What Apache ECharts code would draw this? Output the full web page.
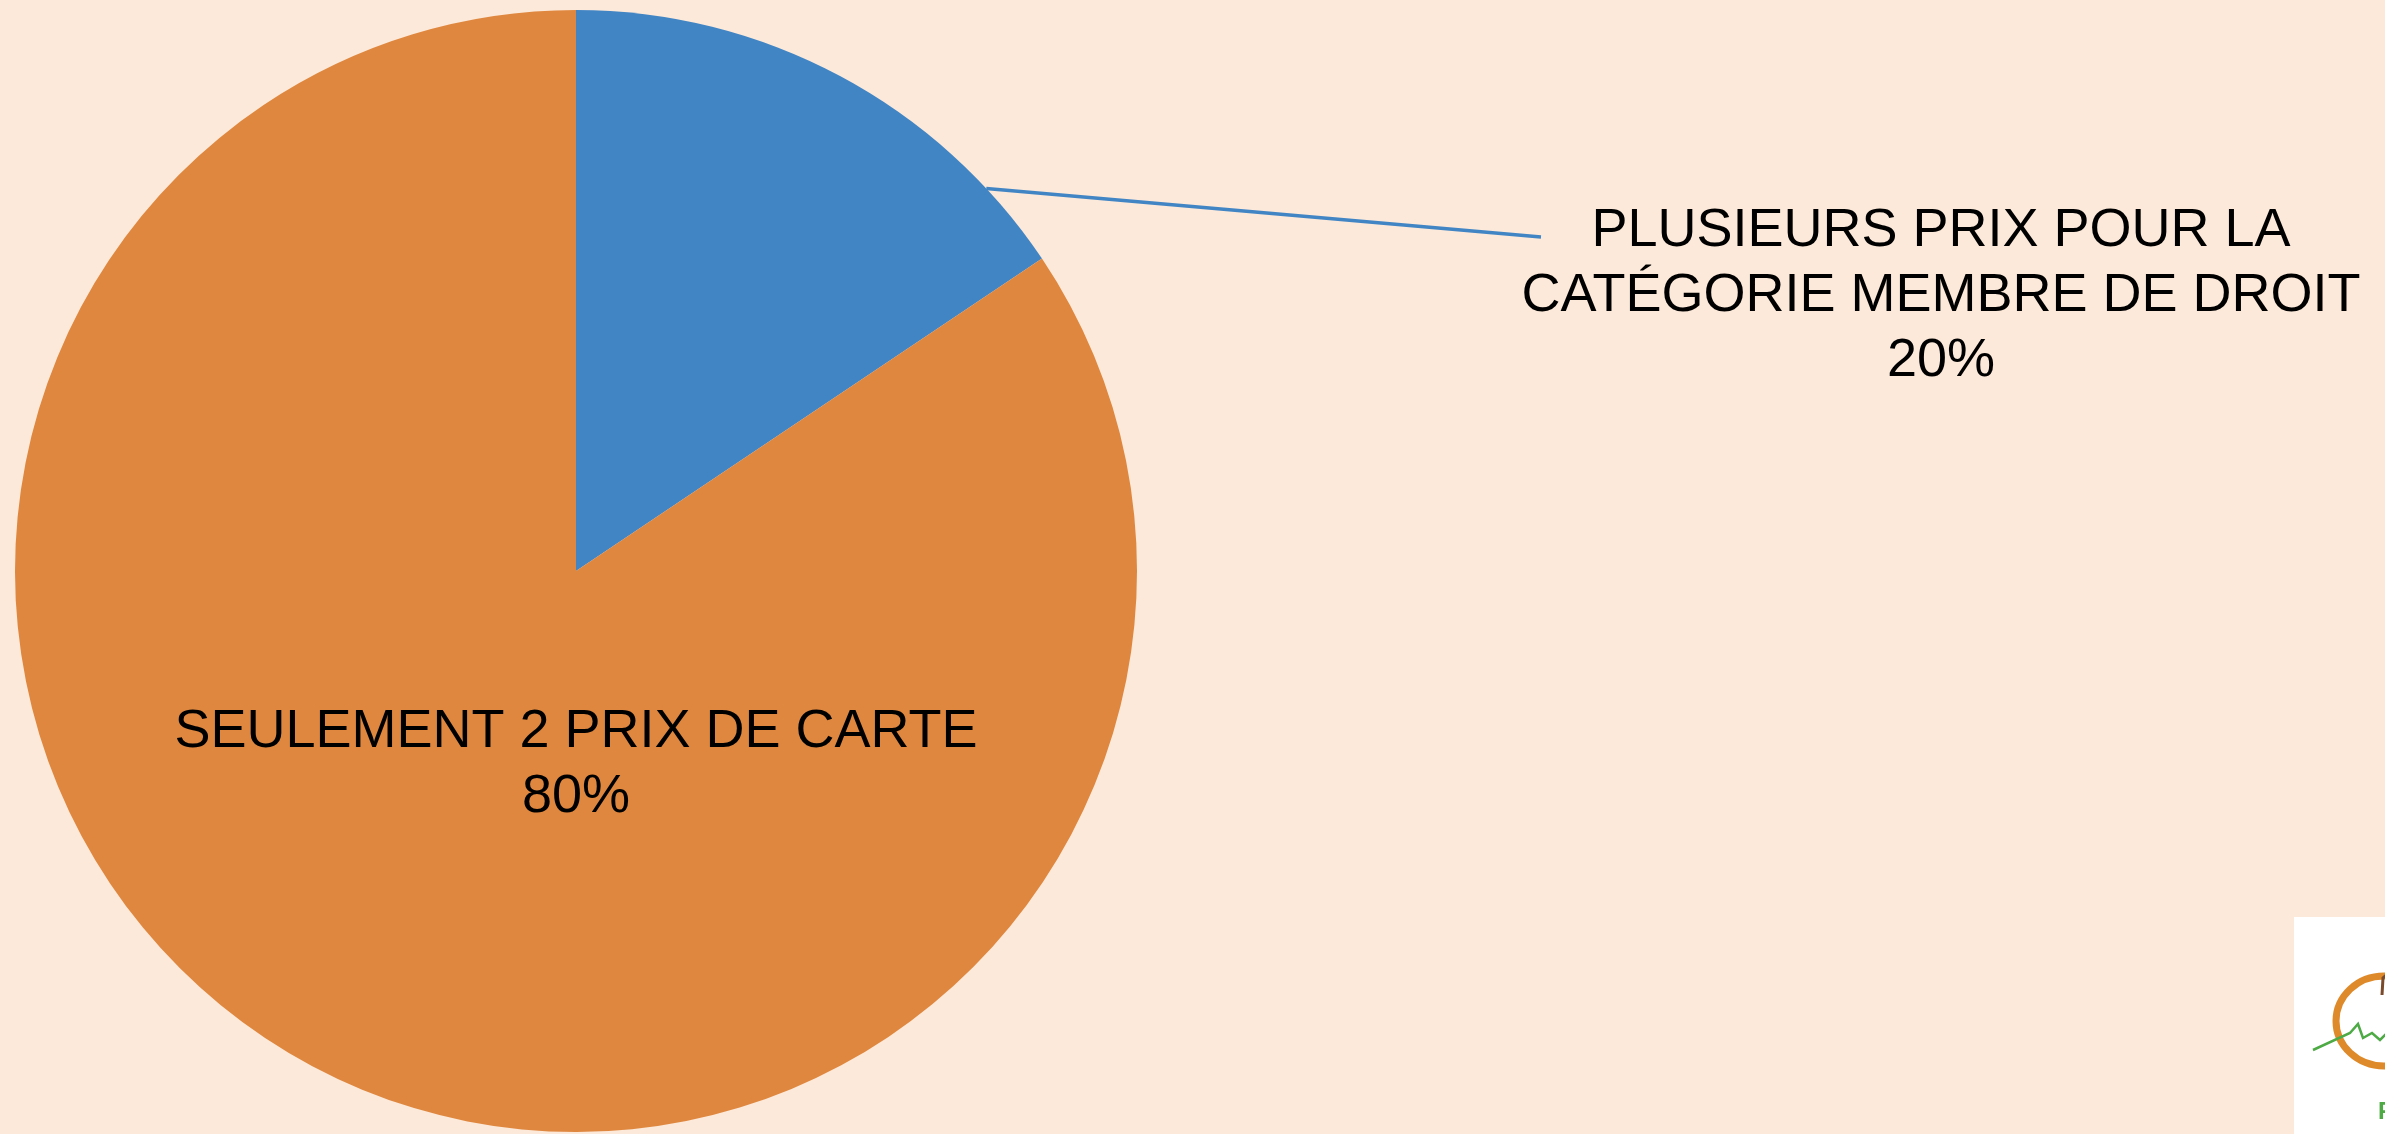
<!DOCTYPE html>
<html>
<head>
<meta charset="utf-8">
<style>
  html, body { margin: 0; padding: 0; background: #FCE9D9; }
  #main { width: 2385px; height: 1134px; }
</style>
<script src="https://cdn.jsdelivr.net/npm/echarts@6/dist/echarts.min.js"></script>
</head>
<body>
<div id="main"></div>
<script>
// données
const categories = ['PLUSIEURS PRIX POUR LA\nCATÉGORIE MEMBRE DE DROIT', 'SEULEMENT 2 PRIX DE CARTE'];
const sliceValues = [15.6, 84.4];
const labelPercents = ['20%', '80%'];
const sliceColors = ['#4185C5', '#DF873F'];

// mise en page
const cx = 576, cy = 571, R = 561;
const leaderAngle = 47 * Math.PI / 180;

let myChart = echarts.init(document.getElementById('main'));

myChart.setOption({
  backgroundColor: '#FCE9D9',
  animation: false,
  series: [
    {
      type: 'pie',
      center: [cx, cy],
      radius: [0, R],
      startAngle: 90,
      clockwise: true,
      avoidLabelOverlap: false,
      itemStyle: { borderWidth: 0 },
      label: {
        show: true,
        position: 'outside',
        color: '#000',
        fontFamily: 'Liberation Sans, Arial, sans-serif',
        fontSize: 54,
        lineHeight: 65,
        align: 'center',
        formatter: function (p) {
          return p.name + '\n' + labelPercents[p.dataIndex];
        }
      },
      labelLine: {
        show: true,
        lineStyle: { color: sliceColors[0], width: 3.5 }
      },
      labelLayout: function (params) {
        if (params.dataIndex === 0) {
          return {
            x: 1941, y: 296,
            align: 'center', verticalAlign: 'middle',
            labelLinePoints: [
              [cx + R * Math.sin(leaderAngle), cy - R * Math.cos(leaderAngle)],
              [1541, 237]
            ]
          };
        }
        return { x: 576, y: 765, align: 'center', verticalAlign: 'middle' };
      },
      data: categories.map((name, i) => ({
        name: name,
        value: sliceValues[i],
        itemStyle: { color: sliceColors[i] },
        labelLine: { show: i === 0 }
      }))
    }
  ],
  graphic: [
    // logo coupé en bas à droite
    { type: 'rect', shape: { x: 2294, y: 917, width: 100, height: 230 }, style: { fill: '#fff' } },
    { type: 'ellipse', shape: { cx: 2384, cy: 1021, rx: 48, ry: 45 }, style: { fill: 'none', stroke: '#DF8A2A', lineWidth: 7 } },
    { type: 'polyline', shape: { points: [[2313, 1050], [2350, 1033], [2358, 1024], [2363, 1038], [2372, 1033], [2380, 1040], [2390, 1030]] }, style: { fill: 'none', stroke: '#4DAA45', lineWidth: 2.5 } },
    { type: 'polyline', shape: { points: [[2382, 995], [2383, 978], [2390, 972]] }, style: { fill: 'none', stroke: '#7A4A2A', lineWidth: 3 } },
    { type: 'text', x: 2378, y: 1100, style: { text: 'F', fill: '#4DAA45', font: 'bold 24px Liberation Sans' } }
  ]
});
</script>
</body>
</html>
